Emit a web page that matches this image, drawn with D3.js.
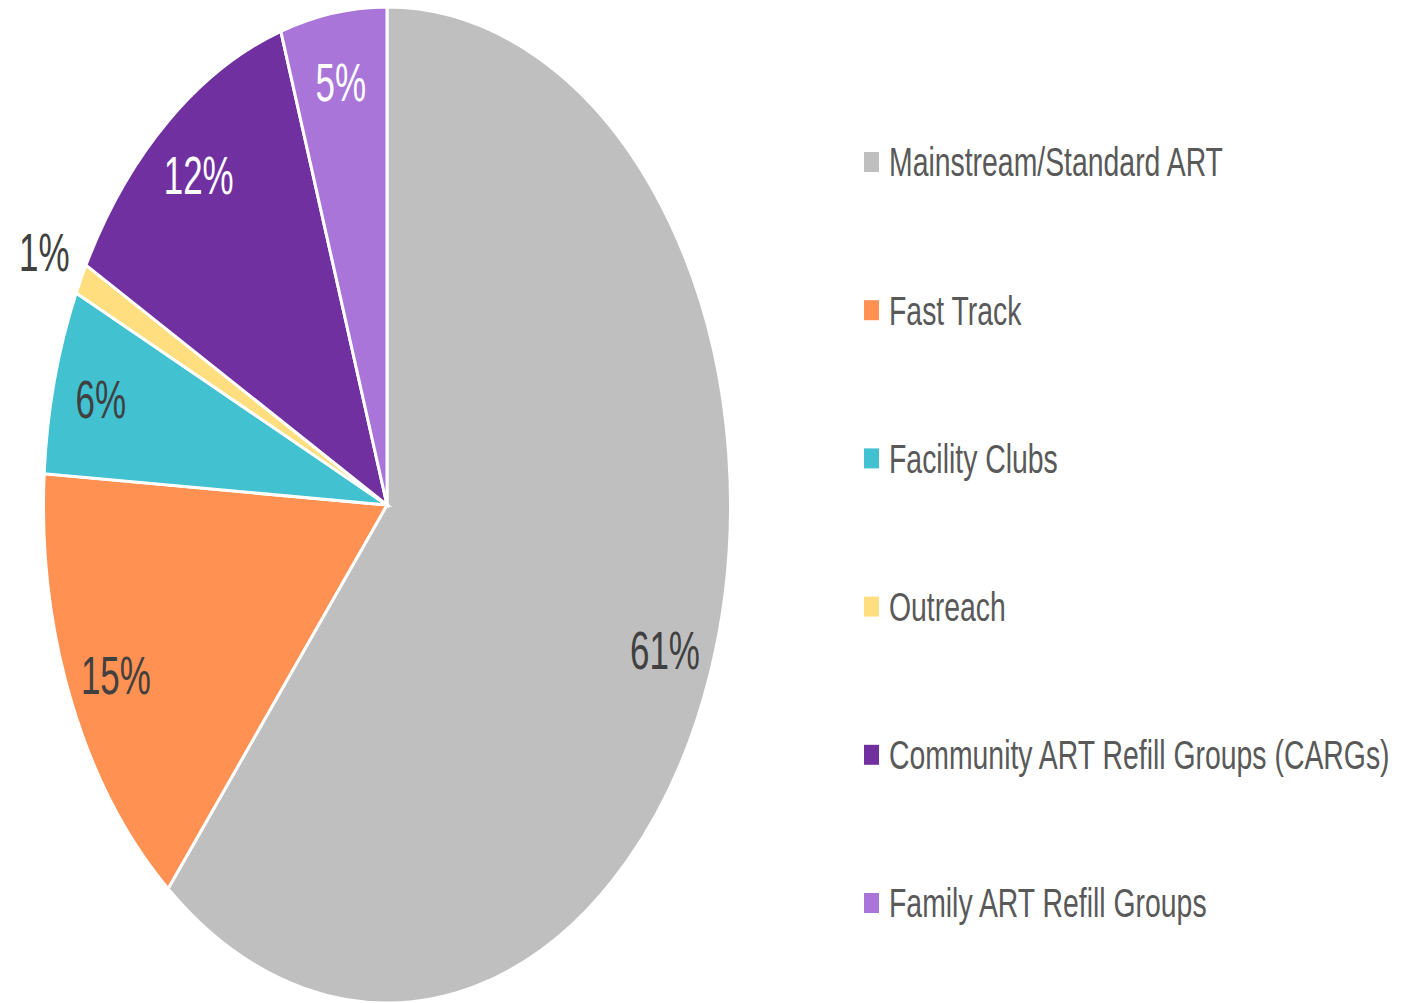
<!DOCTYPE html>
<html>
<head>
<meta charset="utf-8">
<script src="https://cdn.jsdelivr.net/npm/d3@7"></script>
<style>
  body { margin: 0; background: #fff; }
  svg { display: block; }
</style>
</head>
<body>
<svg id="chart" width="1401" height="1003"></svg>
<script>
// slice data, clockwise from 12 o'clock
const categories = [
	"Mainstream/Standard ART",
	"Fast Track",
	"Facility Clubs",
	"Outreach",
	"Community ART Refill Groups (CARGs)",
	"Family ART Refill Groups"
];
const shares = [61, 15, 6, 1, 12, 5];
const colors = ["#BFBFBF", "#FF9153", "#42C1D1", "#FFDE80", "#7030A0", "#AA75D8"];
const labelColors = ["#404040", "#404040", "#404040", "#404040", "#ffffff", "#ffffff"];

const svg = d3.select("#chart");

// pie is drawn as a unit circle and stretched into an ellipse
const cx = 387, cy = 505, rx = 343.5, ry = 498;
const r = 100;

const pie = d3.pie().sort(null).value((d) => d)(shares);
const arc = d3.arc().innerRadius(0).outerRadius(r);

const g = svg.append("g")
	.attr("transform", `translate(${cx},${cy}) scale(${rx / r},${ry / r})`);

g.selectAll("path")
	.data(pie)
	.enter()
	.append("path")
	.attr("d", arc)
	.attr("fill", (d, i) => colors[i])
	.attr("stroke", "#fff")
	.attr("stroke-width", 3)
	.attr("vector-effect", "non-scaling-stroke");

//labels: inside for big slices, outside for tiny ones
const labelPos = (d) => {
	const a = (d.startAngle + d.endAngle) / 2;
	const k = (d.endAngle - d.startAngle) < 0.1 ? 1.12 : 0.86;
	return [cx + Math.sin(a) * rx * k, cy - Math.cos(a) * ry * k];
};

svg.append("g")
	.selectAll("text")
	.data(pie)
	.enter()
	.append("text")
	.attr("transform", (d) => {
		const [x, y] = labelPos(d);
		return `translate(${x},${y}) scale(0.66,1)`;
	})
	.attr("text-anchor", "middle")
	.attr("dy", "0.36em")
	.attr("font-family", "Liberation Sans, Arial, sans-serif")
	.attr("font-size", 53)
	.attr("fill", (d, i) => labelColors[i])
	.text((d) => d.data + "%");

// legend
const legendY = d3.scalePoint()
	.domain(categories)
	.range([162, 903]);

const legend = svg.append("g")
	.selectAll("g")
	.data(categories)
	.enter()
	.append("g")
	.attr("transform", (d) => `translate(864,${legendY(d)})`);

legend.append("rect")
	.attr("x", 0)
	.attr("y", -10)
	.attr("width", 15)
	.attr("height", 20)
	.attr("fill", (d, i) => colors[i]);

legend.append("text")
	.attr("transform", "translate(25,0) scale(0.71,1)")
	.attr("dy", "0.36em")
	.attr("font-family", "Liberation Sans, Arial, sans-serif")
	.attr("font-size", 40)
	.attr("fill", "#595959")
	.text((d) => d);
</script>
</body>
</html>
